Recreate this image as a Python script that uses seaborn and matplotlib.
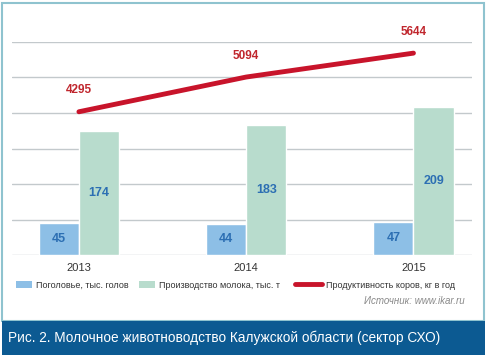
import pandas as pd
import numpy as np
import matplotlib
matplotlib.use('Agg')
import matplotlib.pyplot as plt
import seaborn as sns
from matplotlib.patches import Rectangle, Patch
from matplotlib.lines import Line2D

years = ['2013', '2014', '2015']
herd = [45, 44, 47]            # Поголовье, тыс. голов
milk = [174, 183, 209]         # Производство молока, тыс. т
productivity = [4295, 5094, 5644]  # Продуктивность коров, кг в год

herd_name = 'Поголовье, тыс. голов'
milk_name = 'Производство молока, тыс. т'
prod_name = 'Продуктивность коров, кг в год'
source_text = 'Источник: www.ikar.ru'
caption = 'Рис. 2. Молочное животноводство Калужской области (сектор СХО)'

BLUE = '#8dbfe6'
GREEN = '#b8dccd'
RED = '#c8142b'
LABEL_BLUE = '#2c6fb3'
LABEL_RED = '#c0262d'
BANNER = '#0c5a92'
FRAME = '#8fc3cf'

sns.set_style('white')
plt.rcParams['font.family'] = ['Liberation Sans', 'DejaVu Sans']

df = pd.DataFrame({
    'year': years * 2,
    'series': [herd_name] * 3 + [milk_name] * 3,
    'value': herd + milk,
})

W, H = 490, 360
fig = plt.figure(figsize=(4.9, 3.6), dpi=100)
fig.patch.set_facecolor('white')

ax = fig.add_axes([12 / W, 1 - 255 / H, 460 / W, 213 / H])
sns.barplot(data=df, x='year', y='value', hue='series',
            palette=[BLUE, GREEN], width=0.48, dodge=True,
            saturation=1, legend=False, ax=ax, zorder=2)
ax.set_ylim(0, 300)
ax.set_yticks(np.arange(0, 301, 50))
ax.set_yticklabels([])
ax.yaxis.grid(True, color='#c3c9cc', linewidth=1)
ax.set_axisbelow(True)
ax.set_xlim(-0.40, 2.35)
ax.set_xlabel('')
ax.set_ylabel('')
ax.tick_params(axis='x', length=0, labelsize=8, colors='#333333', pad=6)
ax.tick_params(axis='y', length=0)
for s in ax.spines.values():
    s.set_visible(False)

for cont in ax.containers:
    for bar in cont:
        h = bar.get_height()
        ax.text(bar.get_x() + bar.get_width() / 2, h / 2, f'{h:.0f}',
                ha='center', va='center', fontsize=9, fontweight='bold',
                color=LABEL_BLUE)

ax2 = ax.twinx()
xpos = np.arange(len(years))
sns.lineplot(x=xpos, y=productivity, color=RED, linewidth=3.5,
             solid_capstyle='round', ax=ax2)
ax2.set_ylim(1000, 5900)
ax2.set_yticks([])
ax2.set_ylabel('')
for s in ax2.spines.values():
    s.set_visible(False)
for x, v in zip(xpos, productivity):
    ax2.annotate(f'{v}', (x, v), xytext=(0, 11), textcoords='offset points',
                 ha='center', va='bottom', fontsize=8.5, fontweight='bold',
                 color=LABEL_RED)

# frame and caption banner
fig.patches.append(Rectangle((2 / W, 1 - 321 / H), 482 / W, 318 / H,
                             transform=fig.transFigure, fill=False,
                             edgecolor=FRAME, linewidth=1.5))
fig.patches.append(Rectangle((2 / W, 1 - 355 / H), 483 / W, 34 / H,
                             transform=fig.transFigure, facecolor=BANNER,
                             edgecolor='none'))
fig.text(8 / W, 1 - 338 / H, caption, color='white', fontsize=9.8,
         ha='left', va='center')

# legend: one entry per box so each sits where the reference has it
entries = [
    (Patch(facecolor=BLUE, edgecolor='none'), herd_name, 16, 1.8),
    (Patch(facecolor=GREEN, edgecolor='none'), milk_name, 139, 1.8),
    (Line2D([0], [0], color=RED, linewidth=3.5), prod_name, 295, 3.0),
]
for handle, label, x0, hl in entries:
    fig.legend([handle], [label], loc='center left',
               bbox_to_anchor=(x0 / W, 1 - 285 / H), frameon=False,
               borderpad=0, borderaxespad=0, handlelength=hl,
               handleheight=0.8, handletextpad=0.45,
               prop={'size': 6.5}, labelcolor='#333333')

fig.text(465 / W, 1 - 301 / H, source_text, color='#8a8a8a', fontsize=7,
         style='italic', ha='right', va='center')

fig.savefig('out.png', dpi=100)
